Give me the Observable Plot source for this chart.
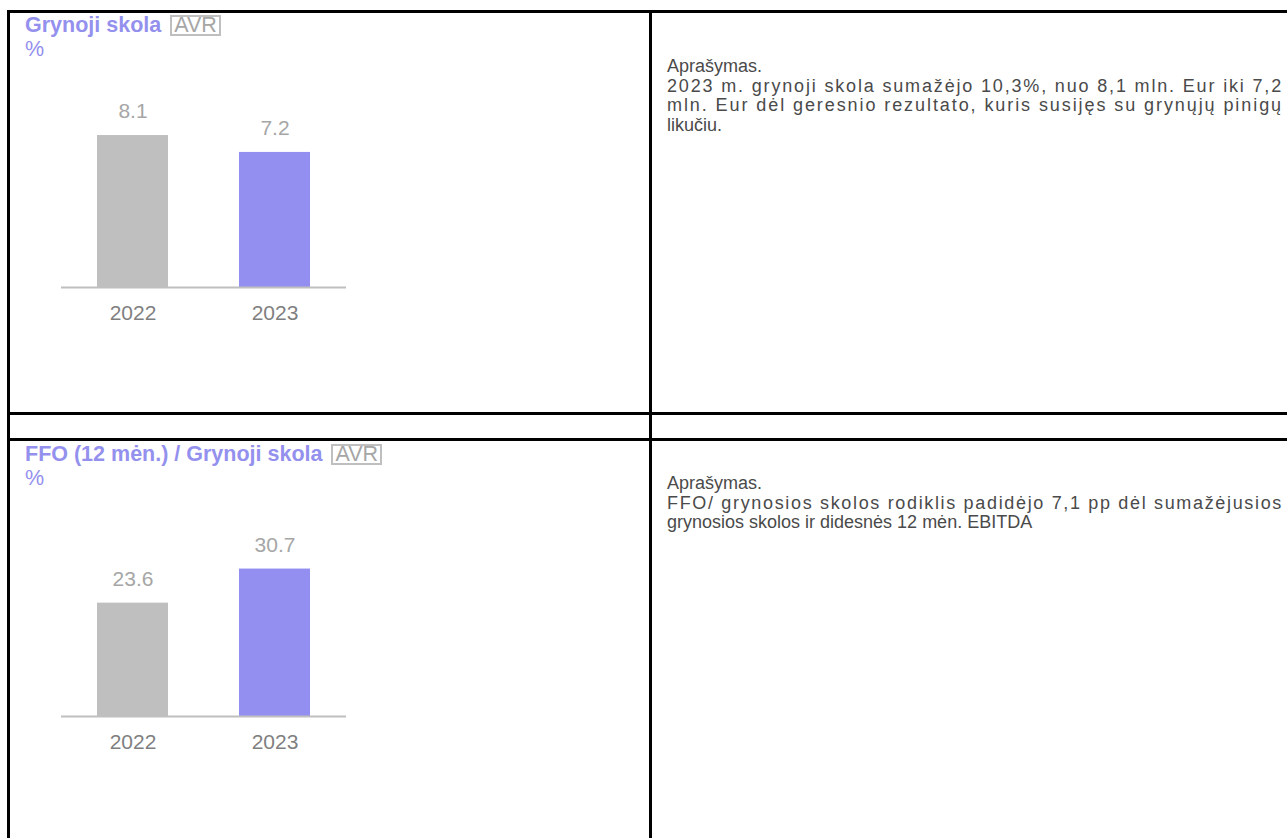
<!DOCTYPE html>
<html>
<head>
<meta charset="utf-8">
<script src="https://cdn.jsdelivr.net/npm/d3@7"></script>
<script src="https://cdn.jsdelivr.net/npm/@observablehq/plot@0.6"></script>
<style>
  html, body { margin: 0; padding: 0; background: #fff; }
  body { position: relative; width: 1287px; height: 838px; overflow: hidden; font-family: "Liberation Sans", Arial, sans-serif; }
  .line { position: absolute; background: #000; }
  .head { position: absolute; left: 25px; color: #9490ee; font-size: 21.5px; line-height: 24px; white-space: nowrap; }
  .head b { font-weight: bold; }
  .avr { display: inline-block; border: 2px solid #bfbfbf; color: #a6a6a6; padding: 0 2px; line-height: 17px; font-weight: normal; margin-left: 3px; }
  .desc { position: absolute; left: 667px; color: #4a4a4a; font-size: 18px; line-height: 19.5px; white-space: nowrap; }
  .desc span { display: block; }
  .chart { position: absolute; left: 0; }
</style>
</head>
<body>
<div class="line" style="left:7px;top:10px;width:1290px;height:3px"></div>
<div class="line" style="left:7px;top:10px;width:3px;height:840px"></div>
<div class="line" style="left:649px;top:10px;width:3px;height:840px"></div>
<div class="line" style="left:7px;top:412px;width:1290px;height:3px"></div>
<div class="line" style="left:7px;top:438px;width:1290px;height:3px"></div>

<div class="head" style="top:13px"><b>Grynoji skola</b> <span class="avr">AVR</span><br>%</div>
<div class="head" style="top:442px"><b>FFO (12 mėn.) / Grynoji skola</b> <span class="avr">AVR</span><br>%</div>

<div class="desc" style="top:57px"><span>Aprašymas.</span><span class="j">2023 m. grynoji skola sumažėjo 10,3%, nuo 8,1 mln. Eur iki 7,2</span><span class="j">mln. Eur dėl geresnio rezultato, kuris susijęs su grynųjų pinigų</span><span>likučiu.</span></div>
<div class="desc" style="top:474px"><span>Aprašymas.</span><span class="j">FFO/ grynosios skolos rodiklis padidėjo 7,1 pp dėl sumažėjusios</span><span>grynosios skolos ir didesnės 12 mėn. EBITDA</span></div>

<div id="c1" class="chart" style="top:60px"></div>
<div id="c2" class="chart" style="top:460px"></div>

<script>
const years = ["2022", "2023"];
const netDebt = [8.1, 7.2];
const ffoToDebt = [23.6, 30.7];
const barColors = ["#bfbfbf", "#938ff1"];

function chart(values, height, marginBottom, yMax) {
  const data = years.map((y, i) => ({year: y, value: values[i]}));
  return Plot.plot({
    width: 650,
    height,
    marginLeft: 61,
    marginRight: 304,
    marginTop: 0,
    marginBottom,
    style: {fontFamily: "'Liberation Sans', Arial, sans-serif", fontSize: "21px", color: "#7f7f7f", background: "transparent"},
    x: {domain: years, paddingInner: 0.5, paddingOuter: 0.25, label: null, tickSize: 0, tickPadding: 18},
    y: {domain: [0, yMax], axis: null},
    color: {domain: years, range: barColors},
    marks: [
      Plot.barY(data, {x: "year", y: "value", fill: "year"}),
      Plot.ruleY([0], {stroke: "#bfbfbf", strokeWidth: 2}),
      Plot.text(data, {x: "year", y: "value", text: d => d.value.toFixed(1), dy: -24, fill: "#a6a6a6", fontSize: 21})
    ]
  });
}

document.getElementById("c1").append(chart(netDebt, 280, 53, 12.1));
document.getElementById("c2").append(chart(ffoToDebt, 310, 54, 53.3));

// justify full lines by spreading characters to the cell width
const targetWidth = 616;
document.querySelectorAll(".desc .j").forEach(el => {
  el.style.display = "inline-block";
  const w = el.getBoundingClientRect().width;
  const n = el.textContent.length;
  el.style.letterSpacing = ((targetWidth - w) / n) + "px";
  el.style.display = "block";
});
</script>
</body>
</html>
